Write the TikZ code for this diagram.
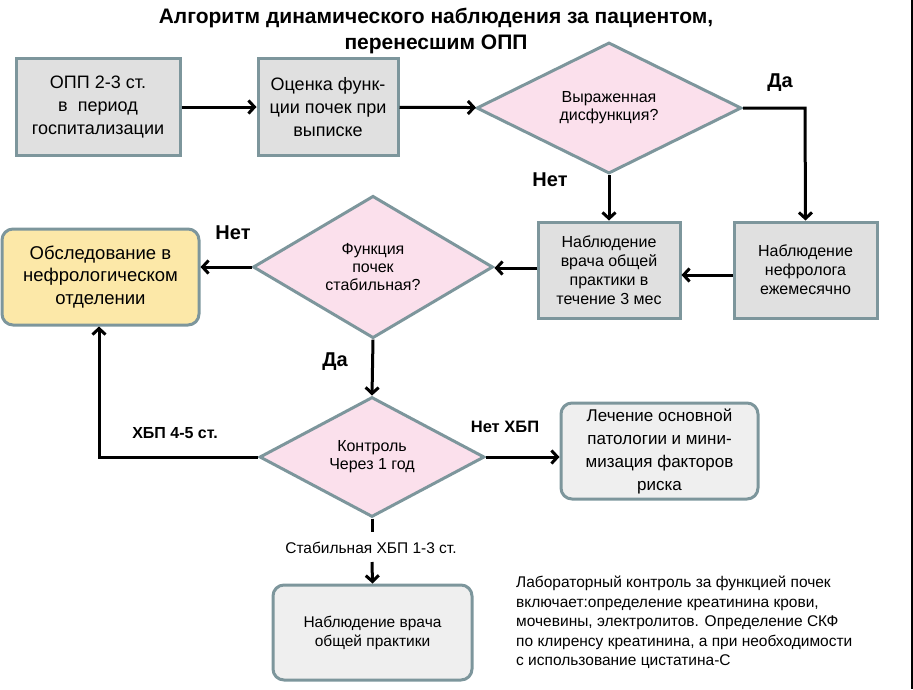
\documentclass[tikz,border=0pt]{standalone}
\usepackage{fontspec}
\setmainfont{Liberation Sans}
\usetikzlibrary{shapes.geometric,arrows.meta}
\definecolor{boxgray}{RGB}{224,224,224}
\definecolor{boxlight}{RGB}{239,239,239}
\definecolor{rimgray}{RGB}{125,150,156}
\definecolor{diapink}{RGB}{251,224,236}
\definecolor{boxyellow}{RGB}{252,232,168}

\begin{document}
\begin{tikzpicture}[x=1pt, y=-1pt, >={Straight Barb[length=6pt,width=13pt]}]
    \tikzstyle{sq}  = [shape=rectangle, draw=rimgray, fill=boxgray, line width=3pt, inner sep=0pt, align=center]
    \tikzstyle{rbox} = [shape=rectangle, rounded corners=11pt, draw=rimgray, fill=boxlight, line width=3pt, inner sep=0pt, align=center]
    \tikzstyle{dia} = [shape=diamond, draw=rimgray, fill=diapink, line width=3pt, inner sep=0pt, align=center, font=\fontsize{16}{18}\selectfont]
    \tikzstyle{lbl} = [font=\fontsize{20}{24}\selectfont\bfseries]
    \tikzstyle{arr} = [->, line width=3pt]

    \useasboundingbox (0,0) rectangle (913,689);

    \node (title) [align=center, font=\fontsize{21}{26}\selectfont\bfseries] at (436,31)
        {Алгоритм динамического наблюдения за пациентом,\\перенесшим ОПП};

    % first row
    \node (opp)  [sq, minimum width=164pt, minimum height=97pt, font=\fontsize{18}{23}\selectfont] at (98,107)
        {ОПП 2-3 ст.\\в\ \ период\\госпитализации};
    \node (ocen) [sq, minimum width=140pt, minimum height=97pt, font=\fontsize{18}{23}\selectfont] at (328,107)
        {Оценка функ-\\ции почек при\\выписке};
    \node (dis)  [dia, minimum width=265pt, minimum height=118pt] at (609,108)
        {Выраженная\\дисфункция?};

    % second row
    \node (vop)  [sq, minimum width=142pt, minimum height=96pt, font=\fontsize{16}{19}\selectfont] at (609,270)
        {Наблюдение\\врача общей\\практики в\\течение 3 мес};
    \node (nefr) [sq, minimum width=143pt, minimum height=96pt, font=\fontsize{16}{19}\selectfont] at (805.5,270)
        {Наблюдение\\нефролога\\ежемесячно};
    \node (stab) [dia, minimum width=240pt, minimum height=120pt] at (373,267)
        {Функция\\почек\\стабильная?};
    \node (obsl) [rbox, fill=boxyellow, minimum width=197pt, minimum height=96pt, font=\fontsize{18.5}{22.5}\selectfont] at (100.5,277)
        {Обследование в\\нефрологическом\\отделении};

    % third row
    \node (kontr) [dia, minimum width=225pt, minimum height=120pt] at (372,457)
        {Контроль\\Через 1 год};
    \node (lech) [rbox, minimum width=197pt, minimum height=96pt, font=\fontsize{17}{23}\selectfont] at (659.5,451)
        {Лечение основной\\патологии и мини-\\мизация факторов\\риска};
    \node (nabl) [rbox, minimum width=199pt, minimum height=95pt, font=\fontsize{15.5}{19}\selectfont] at (372.5,632.5)
        {Наблюдение врача\\общей практики};

    \coordinate (da1) at (805,108);
    \coordinate (hbp) at (99,457);
    \coordinate (s1) at (372,532);
    \coordinate (s2) at (372,562);

    % connectors
    \draw [arr] (opp) -- (ocen);
    \draw [arr] (ocen) -- (dis);
    \draw [arr] (dis.east) -- (da1) -- (nefr.north);
    \draw [arr] (dis.south) -- (dis.south |- vop.north);
    \draw [arr] (nefr.west |- 0,275) -- (vop.east |- 0,275);
    \draw [arr] (vop.west |- 0,268) -- (stab.east |- 0,268);
    \draw [arr] (stab.west) -- (stab.west -| obsl.east);
    \draw [arr] (stab.south) -- (kontr.north);
    \draw [arr] (kontr.west) -- (hbp) -- (hbp |- obsl.south);
    \draw [arr] (kontr.east) -- (kontr.east -| lech.west);
    \draw [line width=3pt] (kontr.south) -- (s1);
    \draw [arr] (s2) -- (nabl.north);

    % labels
    \node (lda1)  [lbl] at (780,83)  {Да};
    \node (lnet1) [lbl] at (550,180) {Нет};
    \node (lnet2) [lbl] at (233,233) {Нет};
    \node (lda2)  [lbl] at (335,362) {Да};
    \node (lhbp)  [lbl, font=\fontsize{16}{18}\selectfont\bfseries] at (175,433) {ХБП 4-5 ст.};
    \node (lnet3) [lbl, font=\fontsize{16.5}{18}\selectfont\bfseries] at (505,427) {Нет ХБП};
    \node (lstab) [font=\fontsize{15.5}{17}\selectfont] at (371,548) {Стабильная ХБП 1-3 ст.};

    \node (note) [anchor=north west, align=left, inner sep=0pt, font=\fontsize{15.5}{19.5}\selectfont] at (516,576)
        {Лабораторный контроль за функцией почек\\включает:определение креатинина крови,\\мочевины, электролитов. Определение СКФ\\по клиренсу креатинина, а при необходимости\\с использование цистатина-С};

    \draw [line width=1.5pt] (912,0) -- (912,689);
\end{tikzpicture}
\end{document}
